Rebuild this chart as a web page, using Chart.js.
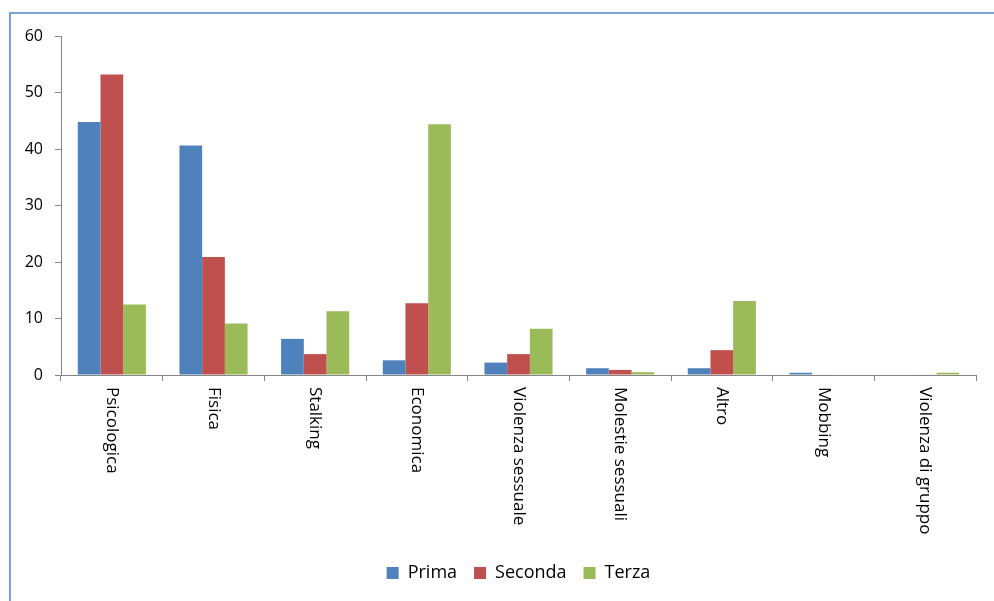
<!DOCTYPE html>
<html>
<head>
<meta charset="utf-8">
<script src="https://cdn.jsdelivr.net/npm/chart.js@4/dist/chart.umd.min.js"></script>
<style>
  html, body { margin: 0; padding: 0; background: #fff; }
  #wrap { position: relative; width: 994px; height: 601px; overflow: hidden; }
  #frame { position: absolute; left: 9px; top: 12px; width: 1100px; height: 700px;
           border-left: 2px solid #7aa0d6; border-top: 2px solid #7aa0d6; box-sizing: border-box; }
  canvas { position: absolute; left: 0; top: 0; }
</style>
</head>
<body>
<div id="wrap">
  <div id="frame"></div>
  <canvas id="c" width="994" height="601"></canvas>
</div>
<script>
const categories = ["Psicologica", "Fisica", "Stalking", "Economica", "Violenza sessuale",
                    "Molestie sessuali", "Altro", "Mobbing", "Violenza di gruppo"];
const prima   = [44.8, 40.6, 6.4, 2.6, 2.2, 1.2, 1.2, 0.4, 0];
const seconda = [53.2, 20.9, 3.7, 12.7, 3.7, 0.9, 4.4, 0.1, 0.1];
const terza   = [12.5, 9.1, 11.3, 44.4, 8.2, 0.5, 13.1, 0.1, 0.4];
const yTicks  = [0, 10, 20, 30, 40, 50, 60];

const FONT = "'Open Sans', Lato, sans-serif";
const axisColor = "#868686";

const rotatedLabels = {
  id: "rotatedLabels",
  afterDraw(chart) {
    const x = chart.scales.x;
    const ctx = chart.ctx;
    ctx.save();
    ctx.fillStyle = "#000";
    ctx.font = "17px " + FONT;
    ctx.textAlign = "left";
    ctx.textBaseline = "middle";
    categories.forEach((lab, i) => {
      const px = x.getPixelForTick(i);
      ctx.save();
      ctx.translate(px, x.top + 12);
      ctx.rotate(Math.PI / 2);
      ctx.fillText(lab, 0, 0);
      ctx.restore();
    });
    ctx.restore();
  }
};

new Chart(document.getElementById("c"), {
  type: "bar",
  data: {
    labels: categories,
    datasets: [
      { label: "Prima",   data: prima,   backgroundColor: "#4f81bd" },
      { label: "Seconda", data: seconda, backgroundColor: "#c0504d" },
      { label: "Terza",   data: terza,   backgroundColor: "#9bbb59" }
    ]
  },
  options: {
    responsive: false,
    animation: false,
    layout: { padding: { left: 0, right: 18, top: 36, bottom: 9 } },
    datasets: { bar: { barPercentage: 1, categoryPercentage: 0.67 } },
    plugins: {
      legend: {
        position: "bottom",
        fullSize: false,
        labels: {
          font: { family: FONT, size: 18 },
          color: "#000",
          boxWidth: 12, boxHeight: 12,
          padding: 17
        }
      },
      tooltip: { enabled: false }
    },
    scales: {
      x: {
        offset: true,
        grid: { offset: true, drawOnChartArea: false, drawTicks: true, tickLength: 6, color: axisColor },
        border: { color: axisColor, width: 1 },
        ticks: { display: false },
        afterFit(s) { s.height = 172; }
      },
      y: {
        min: 0, max: 60,
        afterBuildTicks(s) { s.ticks = yTicks.map(v => ({ value: v })); },
        grid: { drawOnChartArea: false, drawTicks: true, tickLength: 6, color: axisColor },
        border: { color: axisColor, width: 1 },
        ticks: { font: { family: FONT, size: 16 }, color: "#000", padding: 12 },
        afterFit(s) { s.width = 61; }
      }
    }
  },
  plugins: [rotatedLabels]
});
</script>
</body>
</html>
